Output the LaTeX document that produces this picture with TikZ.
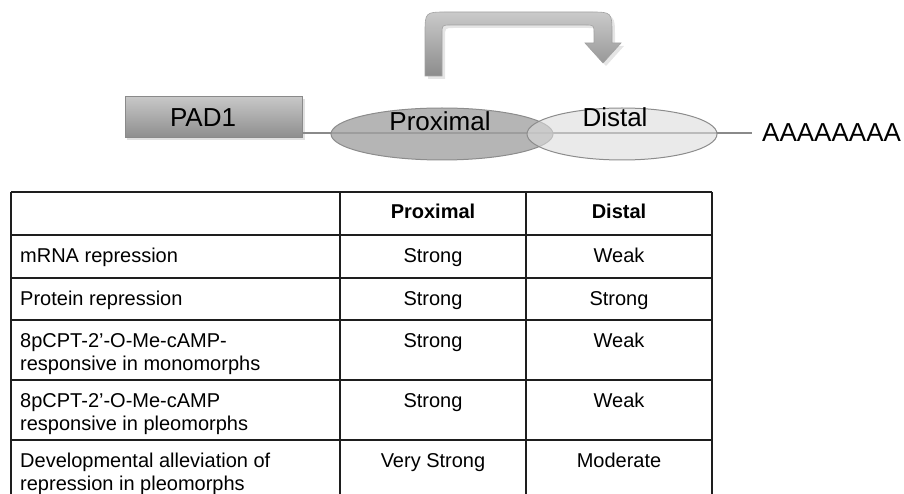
\documentclass[tikz,border=0pt]{standalone}
\usepackage{fontspec}
\setmainfont{Liberation Sans}
\usetikzlibrary{shapes.geometric}
\definecolor{lineg}{HTML}{8A8A8A}
\definecolor{boxtop}{HTML}{C8C8C8}
\definecolor{boxbot}{HTML}{8E8E8E}
\definecolor{boxedge}{HTML}{8A8A8A}
\definecolor{proxfill}{HTML}{A2A2A2}
\definecolor{distfill}{HTML}{DCDCDC}
\definecolor{elledge}{HTML}{8C8C8C}
\definecolor{arrtop}{HTML}{CACACA}
\definecolor{arrbot}{HTML}{8C8C8C}
\definecolor{tabline}{HTML}{1E1E1E}
\begin{document}
\begin{tikzpicture}[x=1pt,y=-1pt,
  biglbl/.style={inner sep=0pt, anchor=base, font=\fontsize{26}{30}\selectfont},
  cellc/.style={inner sep=0pt, anchor=base, font=\fontsize{20}{23}\selectfont},
  celll/.style={inner sep=0pt, anchor=base west, font=\fontsize{20}{23}\selectfont},
  gridline/.style={draw=tabline, line width=1.4pt},
  ell/.style={ellipse, draw=elledge, line width=1pt, inner sep=0pt}
]
\useasboundingbox (0,0) rectangle (904,494);

% bent arrow
\fill[black, opacity=0.10]
  (428,79) -- (428,37) .. controls (428,15) .. (450,15) -- (593,15)
  .. controls (615,15) .. (615,37) -- (615,46) -- (624,46) -- (606,66)
  -- (588,46) -- (597,46) -- (597,37) .. controls (597,28) .. (588,28)
  -- (454,28) .. controls (445,28) .. (445,37) -- (445,79) -- cycle;
\shade[top color=arrtop, bottom color=arrbot, draw=lineg!80, line width=0.6pt]
  (425,76) -- (425,34) .. controls (425,12) .. (447,12) -- (590,12)
  .. controls (612,12) .. (612,34) -- (612,43) -- (621,43) -- (603,63)
  -- (585,43) -- (594,43) -- (594,34) .. controls (594,25) .. (585,25)
  -- (451,25) .. controls (442,25) .. (442,34) -- (442,76) -- cycle;

% gene line
\coordinate (lstart) at (302,133);
\coordinate (lend) at (752,133);

% PAD1 box with shadow
\fill[black, opacity=0.12] (127,99) rectangle (305,140);
\node[draw=boxedge, line width=0.8pt, top color=boxtop, bottom color=boxbot,
      minimum width=177pt, minimum height=41pt, inner sep=0pt, anchor=north west]
      (pad) at (125,96) {};
\node[biglbl] (padlbl) at (203,127) {PAD1};

\draw[lineg, line width=2.6pt] (lstart) -- (lend);

% elements
\node[ell, fill=proxfill, fill opacity=0.8, minimum width=222pt, minimum height=52pt]
  (prox) at (442,134) {};
\node[ell, fill=distfill, fill opacity=0.6, minimum width=190pt, minimum height=52pt]
  (dist) at (622,134) {};
\node[biglbl] (proxlbl) at (440,131) {Proximal};
\node[biglbl] (distlbl) at (615,127) {Distal};
\node[biglbl, anchor=base west] (polya) at (762,142) {AAAAAAAA};

% table grid
\foreach \yy in {192,235,278,320,380,440}
  \draw[gridline] (11,\yy) -- (712,\yy);
\foreach \xx in {11,340,526,712}
  \draw[gridline] (\xx,192) -- (\xx,494);

% header
\node[cellc] (hprox) at (433,219) {\textbf{Proximal}};
\node[cellc] (hdist) at (619,219) {\textbf{Distal}};

% rows
\node[celll] (r1) at (20,262) {mRNA repression};
\node[cellc] (r1p) at (433,262) {Strong};
\node[cellc] (r1d) at (619,262) {Weak};

\node[celll] (r2) at (20,305) {Protein repression};
\node[cellc] (r2p) at (433,305) {Strong};
\node[cellc] (r2d) at (619,305) {Strong};

\node[celll] (r3) at (20,347) {\parbox[t]{320pt}{8pCPT-2’-O-Me-cAMP-\\responsive in monomorphs}};
\node[cellc] (r3p) at (433,347) {Strong};
\node[cellc] (r3d) at (619,347) {Weak};

\node[celll] (r4) at (20,407) {\parbox[t]{320pt}{8pCPT-2’-O-Me-cAMP\\responsive in pleomorphs}};
\node[cellc] (r4p) at (433,407) {Strong};
\node[cellc] (r4d) at (619,407) {Weak};

\node[celll] (r5) at (20,467) {\parbox[t]{320pt}{Developmental alleviation of\\repression in pleomorphs}};
\node[cellc] (r5p) at (433,467) {Very Strong};
\node[cellc] (r5d) at (619,467) {Moderate};
\end{tikzpicture}
\end{document}
